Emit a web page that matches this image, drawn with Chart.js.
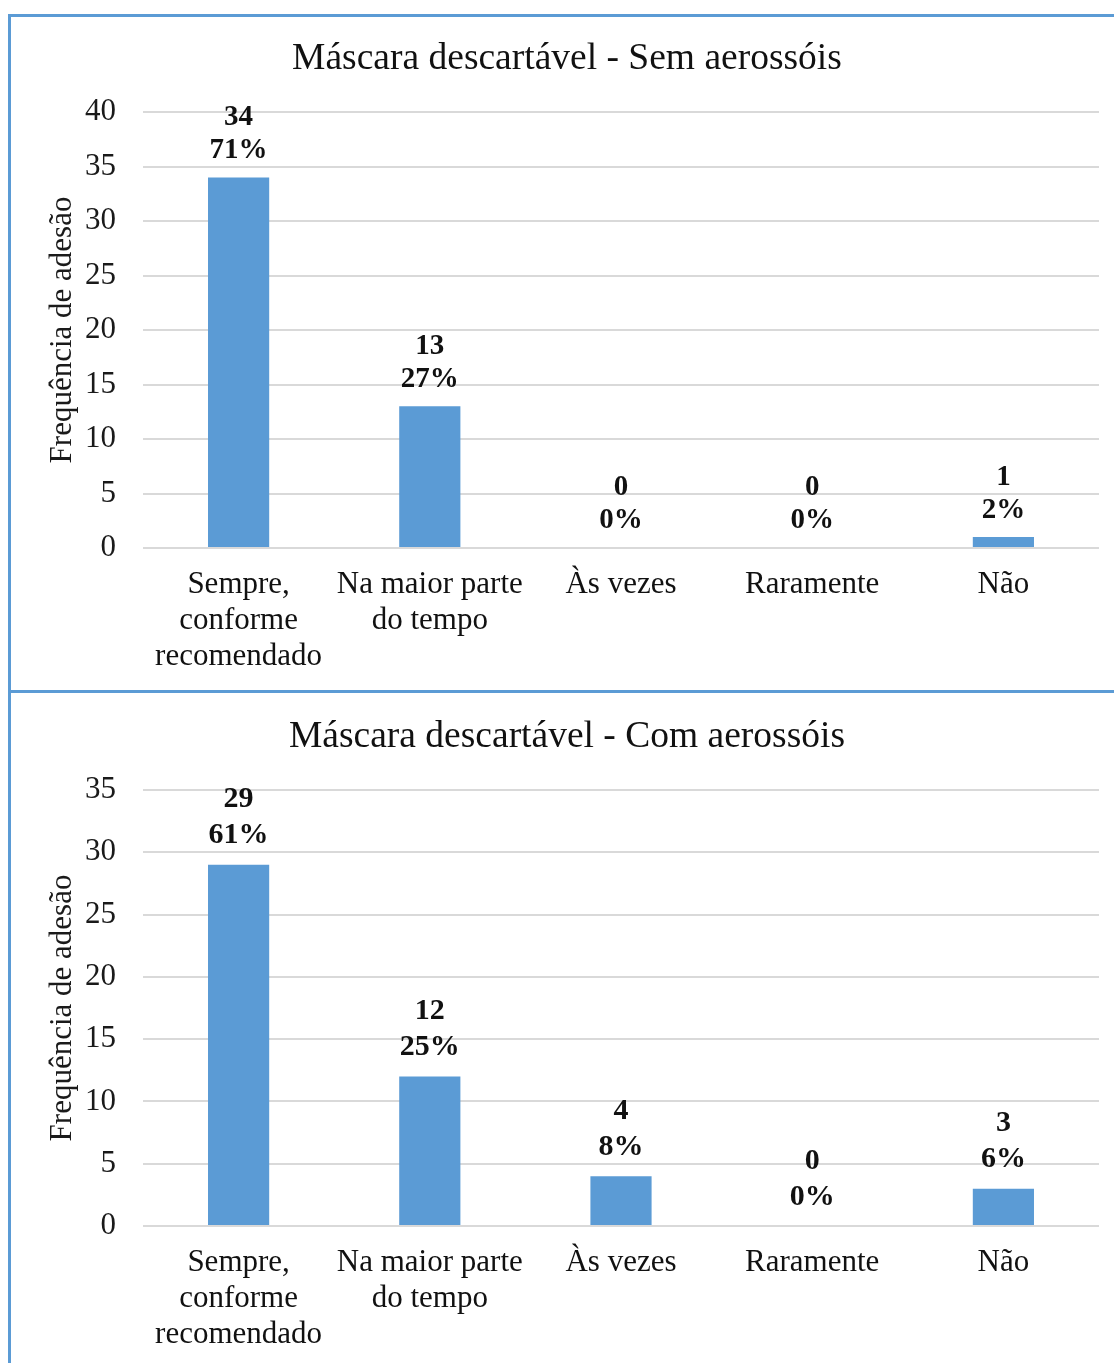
<!DOCTYPE html>
<html>
<head>
<meta charset="utf-8">
<script src="https://cdn.jsdelivr.net/npm/chart.js@4"></script>
<style>
  html, body { margin: 0; padding: 0; background: #ffffff; overflow: hidden; }
  body { width: 1114px; height: 1363px; position: relative; }
  .frame { position: absolute; left: 8px; top: 14px; width: 1300px; height: 2000px;
           border-left: 3px solid #5b9bd5; border-top: 3px solid #5b9bd5; box-sizing: border-box; }
  .divider { position: absolute; left: 8px; top: 690px; width: 1300px; height: 3px; background: #5b9bd5; }
  .box { position: absolute; left: 11px; width: 1112px; height: 673px; }
  #b1 { top: 19px; }
  #b2 { top: 697px; }
</style>
</head>
<body>
<div class="frame"></div>
<div class="divider"></div>
<div class="box" id="b1"><canvas id="c1" width="1112" height="673"></canvas></div>
<div class="box" id="b2"><canvas id="c2" width="1112" height="673"></canvas></div>
<script>
const categories = [['Sempre,', 'conforme', 'recomendado'], ['Na maior parte', 'do tempo'], 'Às vezes', 'Raramente', 'Não'];
const titleSem = 'Máscara descartável - Sem aerossóis';
const titleCom = 'Máscara descartável - Com aerossóis';
const countsSem = [34, 13, 0, 0, 1];
const pctSem = [71, 27, 0, 0, 2];
const countsCom = [29, 12, 4, 0, 3];
const pctCom = [61, 25, 8, 0, 6];
const yMaxSem = 40;
const yMaxCom = 35;
const yStep = 5;
const yTitle = 'Frequência de adesão';

const SERIF = '"Liberation Serif", "Times New Roman", serif';

const labelPlugin = {
  id: 'twoLineLabels',
  afterDatasetsDraw(chart, args, opts) {
    const ctx = chart.ctx;
    const meta = chart.getDatasetMeta(0);
    const ds = chart.data.datasets[0];
    ctx.save();
    ctx.font = 'bold ' + opts.size + 'px ' + SERIF;
    ctx.fillStyle = '#111';
    ctx.textAlign = 'center';
    ctx.textBaseline = 'middle';
    meta.data.forEach((bar, i) => {
      const y = bar.y;
      ctx.fillText(String(ds.data[i]), bar.x, y - opts.offset - opts.gap);
      ctx.fillText(opts.pct[i] + '%', bar.x, y - opts.offset);
    });
    ctx.restore();
  }
};

function makeChart(id, title, counts, pct, yMax, lbl) {
  return new Chart(document.getElementById(id), {
    type: 'bar',
    data: {
      labels: categories,
      datasets: [{
        data: counts,
        yAxisID: 'y',
        backgroundColor: '#5b9bd5',
        borderWidth: 0,
        categoryPercentage: 1.0,
        barPercentage: 0.32
      }]
    },
    plugins: [labelPlugin],
    options: {
      responsive: false,
      animation: false,
      layout: { padding: 0 },
      plugins: {
        legend: { display: false },
        tooltip: { enabled: false },
        title: {
          display: true,
          text: title,
          color: '#111',
          font: { family: SERIF, size: 37.5, weight: 'normal', lineHeight: 1.2 },
          padding: { top: 18, bottom: 30 }
        },
        twoLineLabels: lbl
      },
      scales: {
        x: {
          grid: { display: false, drawTicks: false },
          border: { display: false },
          ticks: {
            color: '#111',
            padding: 19,
            maxRotation: 0,
            autoSkip: false,
            font: { family: SERIF, size: 31, lineHeight: 1.16 }
          },
          afterFit(s) { s.height = 144; }
        },
        y: {
          position: 'left',
          min: 0,
          max: yMax,
          grid: { color: '#d9d9d9', lineWidth: 2, drawTicks: false },
          border: { display: false },
          ticks: {
            stepSize: yStep,
            color: '#1a1a1a',
            padding: 27,
            font: { family: SERIF, size: 31 }
          },
          title: {
            display: true,
            text: yTitle,
            color: '#1a1a1a',
            font: { family: SERIF, size: 31, lineHeight: 1.2 },
            padding: { top: 33, bottom: 0 }
          },
          afterFit(s) { s.width = 132; }
        },
        yRight: {
          position: 'right',
          display: true,
          grid: { display: false, drawTicks: false },
          border: { display: false },
          ticks: { display: false },
          afterFit(s) { s.width = 24; }
        }
      }
    }
  });
}

makeChart('c1', titleSem, countsSem, pctSem, yMaxSem, { size: 29, offset: 27, gap: 33, pct: pctSem });
makeChart('c2', titleCom, countsCom, pctCom, yMaxCom, { size: 30, offset: 29, gap: 36, pct: pctCom });
</script>
</body>
</html>
